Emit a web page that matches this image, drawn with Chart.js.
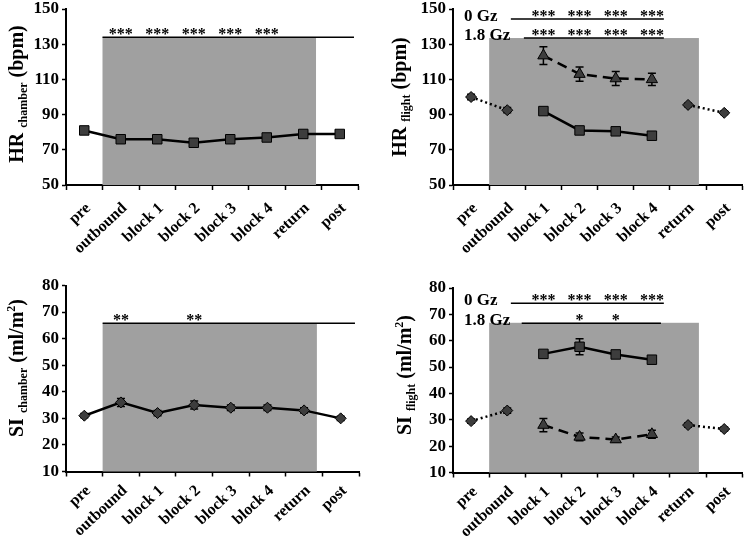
<!DOCTYPE html>
<html>
<head>
<meta charset="utf-8">
<script src="https://cdn.jsdelivr.net/npm/chart.js@4"></script>
<style>
  body { margin: 0; background: #fff; }
  #wrap { position: relative; width: 750px; height: 539px; overflow: hidden; }
  canvas { position: absolute; }
  .yt {
    position: absolute;
    font-family: "Liberation Serif", "Times New Roman", serif;
    font-weight: bold;
    font-size: 20px;
    line-height: 1;
    white-space: nowrap;
    color: #000;
    transform: translate(-50%, -50%) rotate(-90deg);
  }
  .yt sub { font-size: 12px; vertical-align: -4px; }
</style>
</head>
<body>
<div id="wrap">
  <canvas id="c1" width="375" height="270" style="left:0;top:0"></canvas>
  <canvas id="c2" width="375" height="270" style="left:375px;top:0"></canvas>
  <canvas id="c3" width="375" height="269" style="left:0;top:270px"></canvas>
  <canvas id="c4" width="375" height="269" style="left:375px;top:270px"></canvas>
  <div class="yt" style="left:17px;top:94px">HR <sub>chamber</sub> (bpm)</div>
  <div class="yt" style="left:400px;top:97px">HR <sub>flight</sub> (bpm)</div>
  <div class="yt" style="left:17px;top:368px">SI <sub>chamber</sub> (ml/m<sup style="font-size:12px">2</sup>)</div>
  <div class="yt" style="left:405px;top:375px">SI <sub>flight</sub> (ml/m<sup style="font-size:12px">2</sup>)</div>
</div>
<script>
const categories = ['pre', 'outbound', 'block 1', 'block 2', 'block 3', 'block 4', 'return', 'post'];

const hrTicks = [50, 70, 90, 110, 130, 150];
const siTicks = [10, 20, 30, 40, 50, 60, 70, 80];

// HR chamber study
const hrChamber    = [81, 76, 76, 74, 76, 77, 79, 79];
const hrChamberErr = [1, 1, 1, 1, 1, 1, 1, 1];
const hrChamberSig = ['', '***', '***', '***', '***', '***', '', ''];

// HR flight study
const hrFlightGround    = [100, 92.5, null, null, null, null, 95.5, 91];
const hrFlightGroundErr = [1.5, 1.5, 0, 0, 0, 0, 1, 1];
const hrFlight0Gz       = [null, null, 92, 81, 80.5, 78, null, null];
const hrFlight0GzErr    = [0, 0, 1, 1, 1.5, 1, 0, 0];
const hrFlight18Gz      = [null, null, 123.5, 113, 110.5, 110, null, null];
const hrFlight18GzErr   = [0, 0, 5, 4, 4, 3.5, 0, 0];
const hrFlightSig0Gz    = ['', '', '***', '***', '***', '***', '', ''];
const hrFlightSig18Gz   = ['', '', '***', '***', '***', '***', '', ''];

// SI chamber study
const siChamber    = [31, 36, 32, 35, 34, 34, 33, 30];
const siChamberErr = [0.8, 1.5, 1, 1.5, 1, 1, 1, 0.8];
const siChamberSig = ['', '**', '', '**', '', '', '', ''];

// SI flight study
const siFlightGround    = [29.5, 33.5, null, null, null, null, 28, 26.5];
const siFlightGroundErr = [0.8, 1, 0, 0, 0, 0, 0.8, 0.8];
const siFlight0Gz       = [null, null, 55, 57.7, 54.8, 52.8, null, null];
const siFlight0GzErr    = [0, 0, 1, 3, 1, 1.2, 0, 0];
const siFlight18Gz      = [null, null, 28, 23.5, 22.5, 24.5, null, null];
const siFlight18GzErr   = [0, 0, 2.5, 1.5, 1, 1.5, 0, 0];
const siFlightSig0Gz    = ['', '', '***', '***', '***', '***', '', ''];
const siFlightSig18Gz   = ['', '', '', '*', '*', '', '', ''];

const FONT = '"Liberation Serif", "Times New Roman", serif';
const GREY = '#a0a0a0';
const MARK = '#3d3d3d';

// shaded period, significance lines, stars and error bars
const annot = {
  id: 'annot',
  beforeDatasetsDraw(chart, args, opts) {
    const { ctx, scales: { x, y } } = chart;
    ctx.save();
    if (opts.shade) {
      const x0 = x.getPixelForValue(opts.shade.from);
      const x1 = x.getPixelForValue(opts.shade.to);
      const y0 = y.getPixelForValue(opts.shade.top);
      ctx.fillStyle = GREY;
      ctx.fillRect(x0, y0, x1 - x0, y.bottom - y0);
    }
    (opts.rows || []).forEach(r => {
      const yy = y.getPixelForValue(r.y);
      ctx.strokeStyle = '#000';
      ctx.lineWidth = 1.5;
      ctx.beginPath();
      ctx.moveTo(x.getPixelForValue(r.from), yy);
      ctx.lineTo(x.getPixelForValue(r.to), yy);
      ctx.stroke();
      ctx.fillStyle = '#000';
      ctx.font = 'bold 16px ' + FONT;
      ctx.textAlign = 'center';
      ctx.textBaseline = 'alphabetic';
      r.stars.forEach((t, i) => { if (t) ctx.fillText(t, x.getPixelForValue(i), yy + 2); });
      if (r.label) {
        ctx.font = 'bold 17px ' + FONT;
        ctx.textAlign = 'left';
        ctx.fillText(r.label, x.left + 11, yy + 2);
      }
    });
    ctx.strokeStyle = '#000';
    ctx.lineWidth = 1.5;
    ctx.setLineDash([]);
    chart.data.datasets.forEach(ds => {
      if (!ds.errors) return;
      ds.data.forEach((v, i) => {
        const e = ds.errors[i];
        if (v == null || !e) return;
        const px = x.getPixelForValue(i);
        const yt = y.getPixelForValue(v + e), yb = y.getPixelForValue(v - e);
        ctx.beginPath();
        ctx.moveTo(px, yt); ctx.lineTo(px, yb);
        ctx.moveTo(px - 4, yt); ctx.lineTo(px + 4, yt);
        ctx.moveTo(px - 4, yb); ctx.lineTo(px + 4, yb);
        ctx.stroke();
      });
    });
    ctx.restore();
  }
};

function series(data, errors, style, dash, radius) {
  return {
    data, errors,
    borderColor: '#000', borderWidth: 2.5, borderDash: dash,
    pointStyle: style, pointRadius: radius, pointBackgroundColor: MARK,
    pointBorderColor: '#000', pointBorderWidth: 1,
    tension: 0, spanGaps: false, fill: false
  };
}

function panel(id, box, ticks, datasets, annotOpts) {
  const canvas = document.getElementById(id);
  const W = canvas.width, H = canvas.height;
  new Chart(canvas, {
    type: 'line',
    data: { labels: categories, datasets },
    plugins: [annot],
    options: {
      responsive: false,
      animation: false,
      layout: { padding: { left: 0, right: W - box.right, top: box.top, bottom: 0 } },
      plugins: { legend: { display: false }, tooltip: { enabled: false }, annot: annotOpts },
      scales: {
        x: {
          offset: true,
          grid: { offset: true, drawOnChartArea: false, drawTicks: true, tickLength: 5, tickColor: '#000', tickWidth: 1.5 },
          border: { color: '#000', width: 2 },
          ticks: { color: '#000', font: { family: FONT, size: 16, weight: 'bold' }, minRotation: 43, maxRotation: 43, padding: box.labelPad, labelOffset: 4, autoSkip: false },
          afterFit: s => { s.height = H - box.bottom; s.paddingLeft = 0; s.paddingRight = 0; }
        },
        y: {
          min: ticks[0], max: ticks[ticks.length - 1],
          ticks: { stepSize: ticks[1] - ticks[0], color: '#000', font: { family: FONT, size: 17, weight: 'bold' }, padding: 3 },
          grid: { drawOnChartArea: false, drawTicks: true, tickLength: 4, tickColor: '#000', tickWidth: 1.5 },
          border: { color: '#000', width: 2 },
          afterFit: s => { s.width = box.left; s.paddingTop = 0; s.paddingBottom = 0; }
        }
      }
    }
  });
}

panel('c1', { left: 66, right: 358, top: 9, bottom: 185, labelPad: 9 }, hrTicks,
  [series(hrChamber, hrChamberErr, 'rect', [], 6.7)],
  { shade: { from: 0.5, to: 6.35, top: 134 },
    rows: [{ y: 134, from: 0.5, to: 7.39, stars: hrChamberSig }] });

panel('c2', { left: 78, right: 372, top: 9, bottom: 185, labelPad: 9 }, hrTicks,
  [series(hrFlightGround, hrFlightGroundErr, 'rectRot', [2, 3], 5.5),
   series(hrFlight0Gz, hrFlight0GzErr, 'rect', [], 6.7),
   series(hrFlight18Gz, hrFlight18GzErr, 'triangle', [10, 6], 6.5)],
  { shade: { from: 0.5, to: 6.3, top: 133.5 },
    rows: [{ y: 144.3, from: 1.1, to: 5.33, stars: hrFlightSig0Gz, label: '0 Gz' },
           { y: 133.5, from: 1.46, to: 5.33, stars: hrFlightSig18Gz, label: '1.8 Gz' }] });

panel('c3', { left: 66, right: 359, top: 15.5, bottom: 201.5, labelPad: 5 }, siTicks,
  [series(siChamber, siChamberErr, 'rectRot', [], 5.5)],
  { shade: { from: 0.5, to: 6.35, top: 65.8 },
    rows: [{ y: 65.8, from: 0.5, to: 7.39, stars: siChamberSig }] });

panel('c4', { left: 78, right: 372, top: 18, bottom: 202.5, labelPad: 5 }, siTicks,
  [series(siFlightGround, siFlightGroundErr, 'rectRot', [2, 3], 5.5),
   series(siFlight0Gz, siFlight0GzErr, 'rect', [], 6.7),
   series(siFlight18Gz, siFlight18GzErr, 'triangle', [10, 6], 6.5)],
  { shade: { from: 0.5, to: 6.3, top: 66.8 },
    rows: [{ y: 74.2, from: 1.1, to: 5.33, stars: siFlightSig0Gz, label: '0 Gz' },
           { y: 66.6, from: 1.4, to: 5.25, stars: siFlightSig18Gz, label: '1.8 Gz' }] });
</script>
</body>
</html>
